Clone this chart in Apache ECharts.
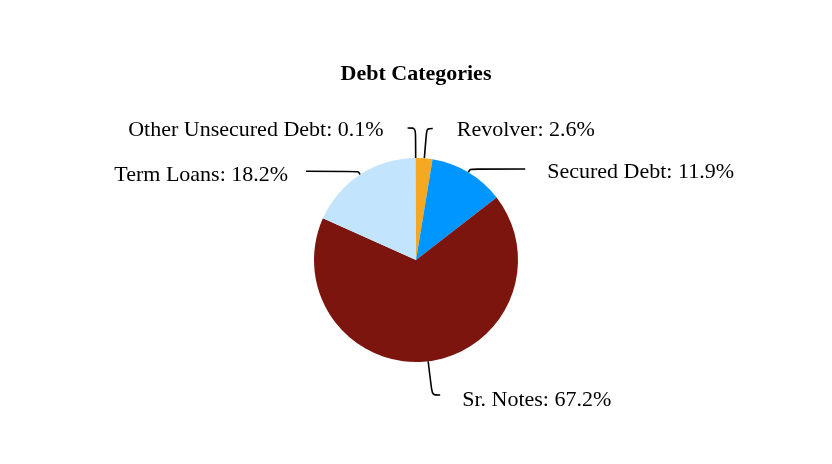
<!DOCTYPE html>
<html><head><meta charset="utf-8">
<script src="https://cdn.jsdelivr.net/npm/echarts@6/dist/echarts.min.js"></script>
<style>html,body{margin:0;padding:0;background:#fff}#c{width:832px;height:464px}</style>
</head><body><div id="c"></div>
<script>
const categories = ["Revolver", "Secured Debt", "Sr. Notes", "Term Loans", "Other Unsecured Debt"];
const values = [2.6, 11.9, 67.2, 18.2, 0.1];
const colors = ["#f7a823", "#0096ff", "#7b150e", "#c3e4fd", "#9fc9ef"];
// label line geometry per slice: [length, length2, distanceToLabelLine, label top padding]
const lineLen = [[30, 6, 24, 4], [4, 55, 22, 7], [34, 8, 22, 10], [4, 52, 18, 7], [30, 8, 24, 4]];

const baseText = { fontFamily: 'Liberation Serif', fontSize: 22, color: '#000' };
const rich = {};
lineLen.forEach((l, i) => { rich['s' + i] = Object.assign({ padding: [l[3], 0, 0, 0] }, baseText); });

const chart = echarts.init(document.getElementById('c'));
chart.setOption({
  backgroundColor: '#fff',
  animation: false,
  title: {
    text: 'Debt Categories', left: 'center', top: 58,
    textStyle: { fontFamily: 'Liberation Serif', fontSize: 22, fontWeight: 'bold', color: '#000' }
  },
  series: [{
    type: 'pie',
    center: [416, 260],
    radius: 102,
    startAngle: 90,
    minShowLabelAngle: 0,
    data: categories.map((c, i) => ({
      name: c, value: values[i], itemStyle: { color: colors[i] },
      labelLine: { length: lineLen[i][0], length2: lineLen[i][1] },
      label: { distanceToLabelLine: lineLen[i][2] }
    })),
    label: Object.assign({
      formatter: p => '{s' + p.dataIndex + '|' + p.name + ': ' + p.value.toFixed(1) + '%}',
      rich: rich
    }, baseText),
    labelLine: { smooth: true, lineStyle: { color: '#000', width: 1.6 } },
    itemStyle: { borderWidth: 0 }
  }]
});
</script></body></html>
